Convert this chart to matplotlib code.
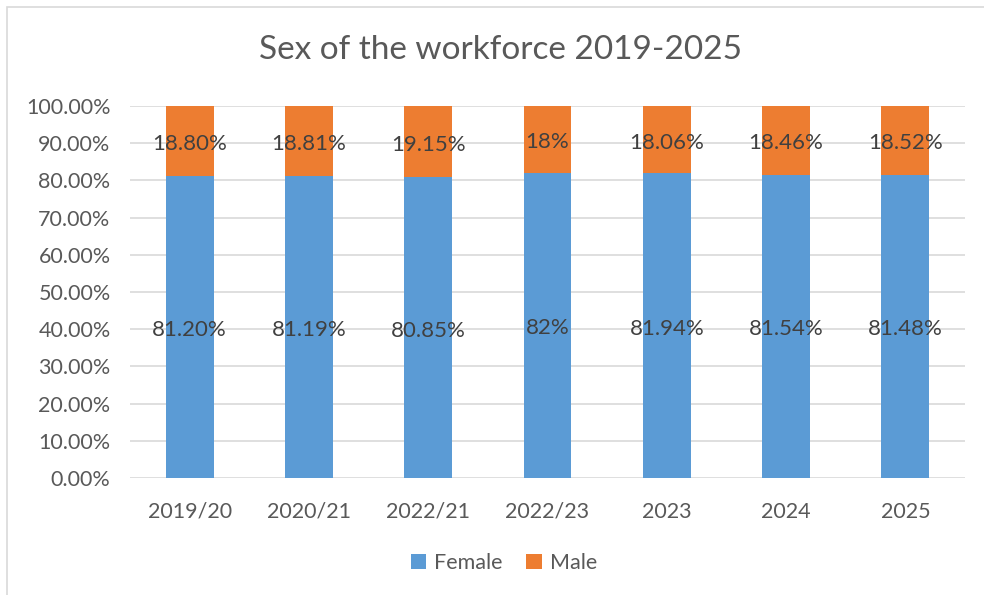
import matplotlib.pyplot as plt
import numpy as np
from matplotlib.patches import Rectangle
from matplotlib.ticker import FuncFormatter

plt.rcParams['font.family'] = ['Lato', 'DejaVu Sans']

years = ['2019/20', '2020/21', '2022/21', '2022/23', '2023', '2024', '2025']
female = [81.20, 81.19, 80.85, 82.0, 81.94, 81.54, 81.48]
male = [18.80, 18.81, 19.15, 18.0, 18.06, 18.46, 18.52]
female_labels = ['81.20%', '81.19%', '80.85%', '82%', '81.94%', '81.54%', '81.48%']
male_labels = ['18.80%', '18.81%', '19.15%', '18%', '18.06%', '18.46%', '18.52%']

blue = '#5B9BD5'
orange = '#ED7D31'
grey = '#595959'

fig = plt.figure(figsize=(9.84, 5.95), dpi=100)
# chart border like the excel frame
fig.patches.append(Rectangle((7 / 984, -0.1), 1.2, 1 - 7 / 595 + 0.1,
                             transform=fig.transFigure, fill=False,
                             edgecolor='#D9D9D9', linewidth=1.2))

ax = fig.add_axes([130 / 984, 1 - 478 / 595, 835 / 984, 372 / 595])
x = np.arange(len(years))
b1 = ax.bar(x, female, width=0.4, color=blue, label='Female', zorder=3)
b2 = ax.bar(x, male, width=0.4, bottom=female, color=orange, label='Male', zorder=3)

for i in range(len(years)):
    ax.text(x[i], female[i] / 2 - 0.8, female_labels[i], ha='center', va='center',
            fontsize=16, color='#404040', zorder=4)
    ax.text(x[i], female[i] + male[i] / 2 - 0.8, male_labels[i], ha='center', va='center',
            fontsize=16, color='#404040', zorder=4)

ax.set_xlim(-0.5, len(years) - 0.5)
ax.set_ylim(0, 100)
ax.set_yticks(np.arange(0, 101, 10))
ax.yaxis.set_major_formatter(FuncFormatter(lambda v, p: '{:.2f}%'.format(v)))
ax.set_xticks(x)
ax.set_xticklabels(years)
ax.grid(axis='y', color='#D9D9D9', linewidth=1.2, zorder=0)
for s in ax.spines.values():
    s.set_visible(False)
ax.tick_params(length=0, labelsize=15.5, labelcolor=grey)
ax.tick_params(axis='y', pad=14)
ax.tick_params(axis='x', pad=17)

fig.text(500 / 984, 1 - 50 / 595, 'Sex of the workforce 2019-2025', ha='center', va='center',
         fontsize=24, color=grey)

fig.legend(handles=[b1, b2], loc='center', bbox_to_anchor=(504 / 984, 1 - 563 / 595),
           ncol=2, frameon=False, fontsize=15.5, labelcolor=grey,
           handlelength=0.7, handleheight=0.7, handletextpad=0.4, columnspacing=1.1)

fig.savefig('out.png', dpi=100)
